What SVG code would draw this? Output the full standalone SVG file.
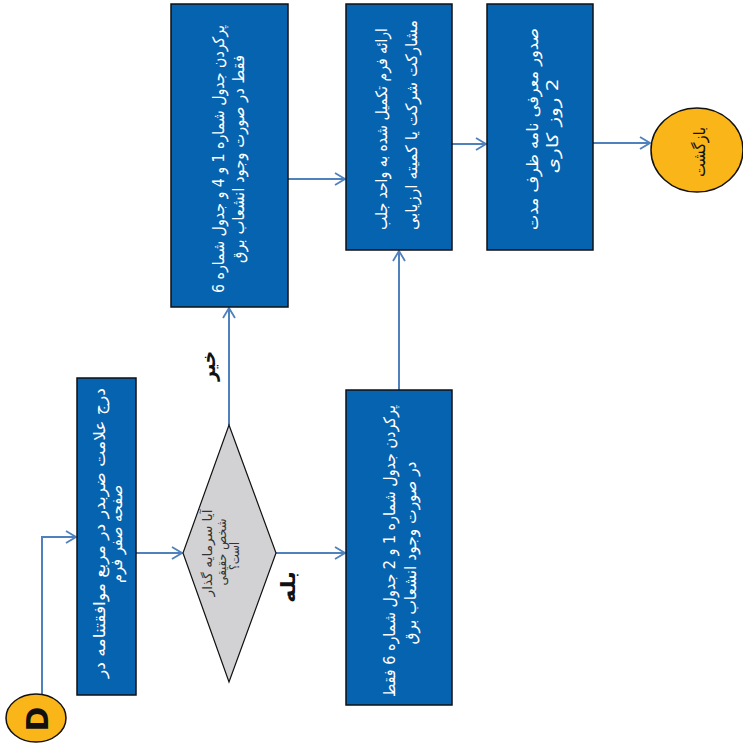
<svg xmlns="http://www.w3.org/2000/svg" width="743" height="747" viewBox="0 0 743 747">
  <style>
    .box { fill: #0563B0; stroke: #111; stroke-width: 1.5; }
    .term { fill: #FAB619; stroke: #111; stroke-width: 1.5; }
    .dec { fill: #D2D2D4; stroke: #111; stroke-width: 1.2; }
    .lbl { font-family: "DejaVu Sans", "Noto Sans", sans-serif; font-size: 16px; fill: #FFFFFF; }
    .dlbl { font-family: "DejaVu Sans", "Noto Sans", sans-serif; font-size: 13px; fill: #333333; }
    .blk { font-family: "DejaVu Sans", "Noto Sans", sans-serif; fill: #111111; }
    .conn { fill: none; stroke: #4F81BD; stroke-width: 2; }
  </style>
  <defs>
    <marker id="arrow" viewBox="0 0 12 14" refX="11" refY="7" markerWidth="12" markerHeight="14" markerUnits="userSpaceOnUse" orient="auto">
      <path d="M1,1 L11,7 L1,13" fill="none" stroke="#4F81BD" stroke-width="1.8"/>
    </marker>
  </defs>
  <rect width="743" height="747" fill="#FFFFFF"/>

  <!-- connectors -->
  <g id="connectors">
    <polyline class="conn" points="42,694 42,537 76,537" marker-end="url(#arrow)"/>
    <line class="conn" x1="136" y1="553" x2="182" y2="553" marker-end="url(#arrow)"/>
    <line class="conn" x1="229" y1="425" x2="229" y2="308" marker-end="url(#arrow)"/>
    <line class="conn" x1="276" y1="553" x2="345" y2="553" marker-end="url(#arrow)"/>
    <line class="conn" x1="288" y1="179" x2="345" y2="179" marker-end="url(#arrow)"/>
    <line class="conn" x1="399" y1="390" x2="399" y2="251" marker-end="url(#arrow)"/>
    <line class="conn" x1="452" y1="144" x2="486" y2="144" marker-end="url(#arrow)"/>
    <line class="conn" x1="593" y1="143" x2="650" y2="143" marker-end="url(#arrow)"/>
    <text class="blk" font-size="20" font-weight="bold" direction="rtl" text-anchor="middle" textLength="30" lengthAdjust="spacingAndGlyphs" transform="translate(215,366) rotate(-90)">خیر</text>
    <text class="blk" font-size="20" font-weight="bold" direction="rtl" text-anchor="middle" textLength="32" lengthAdjust="spacingAndGlyphs" transform="translate(295,587) rotate(-90)">بله</text>
  </g>

  <!-- start terminal -->
  <g id="start">
    <ellipse class="term" cx="36" cy="718" rx="30" ry="24"/>
    <text class="blk" font-size="30" font-weight="bold" text-anchor="middle" transform="translate(48,719) rotate(-90)">D</text>
  </g>

  <!-- step: mark the agreement box -->
  <g id="mark-agreement">
    <rect class="box" x="77" y="378" width="59" height="317"/>
    <text class="lbl" direction="rtl" text-anchor="middle" textLength="290" lengthAdjust="spacingAndGlyphs" transform="translate(105,533) rotate(-90)">درج علامت ضربدر در مربع موافقتنامه در</text>
    <text class="lbl" direction="rtl" text-anchor="middle" textLength="98" lengthAdjust="spacingAndGlyphs" transform="translate(122,534) rotate(-90)">صفحه صفر فرم</text>
  </g>

  <!-- decision: natural person? -->
  <g id="decision">
    <polygon class="dec" points="229,425 276,553 229,682 183,553"/>
    <text class="dlbl" direction="rtl" text-anchor="middle" textLength="87" lengthAdjust="spacingAndGlyphs" transform="translate(212,553) rotate(-90)">آیا سرمایه گذار</text>
    <text class="dlbl" direction="rtl" text-anchor="middle" textLength="67" lengthAdjust="spacingAndGlyphs" transform="translate(226,552) rotate(-90)">شخص حقیقی</text>
    <text class="dlbl" direction="rtl" text-anchor="middle" textLength="28" lengthAdjust="spacingAndGlyphs" transform="translate(239,556) rotate(-90)">است؟</text>
  </g>

  <!-- step: legal entity tables -->
  <g id="tables-legal">
    <rect class="box" x="171" y="4" width="117" height="303"/>
    <text class="lbl" direction="rtl" text-anchor="middle" textLength="268" lengthAdjust="spacingAndGlyphs" transform="translate(224,159) rotate(-90)">پرکردن جدول شماره 1 و 4 و جدول شماره 6</text>
    <text class="lbl" direction="rtl" text-anchor="middle" textLength="208" lengthAdjust="spacingAndGlyphs" transform="translate(244,159) rotate(-90)">فقط در صورت وجود انشعاب برق</text>
  </g>

  <!-- step: natural person tables -->
  <g id="tables-natural">
    <rect class="box" x="346" y="390" width="106" height="315"/>
    <text class="lbl" direction="rtl" text-anchor="middle" textLength="292" lengthAdjust="spacingAndGlyphs" transform="translate(395,551) rotate(-90)">پرکردن جدول شماره 1 و 2 جدول شماره 6 فقط</text>
    <text class="lbl" direction="rtl" text-anchor="middle" textLength="183" lengthAdjust="spacingAndGlyphs" transform="translate(416,553) rotate(-90)">در صورت وجود انشعاب برق</text>
  </g>

  <!-- step: submit the completed form -->
  <g id="submit-form">
    <rect class="box" x="346" y="4" width="106" height="246"/>
    <text class="lbl" direction="rtl" text-anchor="middle" textLength="202" lengthAdjust="spacingAndGlyphs" transform="translate(387,129) rotate(-90)">ارائه فرم تکمیل شده به واحد جلب</text>
    <text class="lbl" direction="rtl" text-anchor="middle" textLength="210" lengthAdjust="spacingAndGlyphs" transform="translate(417,125) rotate(-90)">مشارکت شرکت یا کمیته ارزیابی</text>
  </g>

  <!-- step: issue the introduction letter -->
  <g id="issue-letter">
    <rect class="box" x="487" y="4" width="106" height="246"/>
    <text class="lbl" direction="rtl" text-anchor="middle" textLength="202" lengthAdjust="spacingAndGlyphs" transform="translate(538,129) rotate(-90)">صدور معرفی نامه ظرف مدت</text>
    <text class="lbl" direction="rtl" text-anchor="middle" textLength="95" lengthAdjust="spacingAndGlyphs" transform="translate(558,126) rotate(-90)">2 روز کاری</text>
  </g>

  <!-- end terminal -->
  <g id="return">
    <ellipse class="term" cx="697" cy="150" rx="46" ry="42"/>
    <text class="blk" font-size="16" direction="rtl" text-anchor="middle" textLength="50" lengthAdjust="spacingAndGlyphs" transform="translate(705,152) rotate(-90)">بازگشت</text>
  </g>
</svg>
